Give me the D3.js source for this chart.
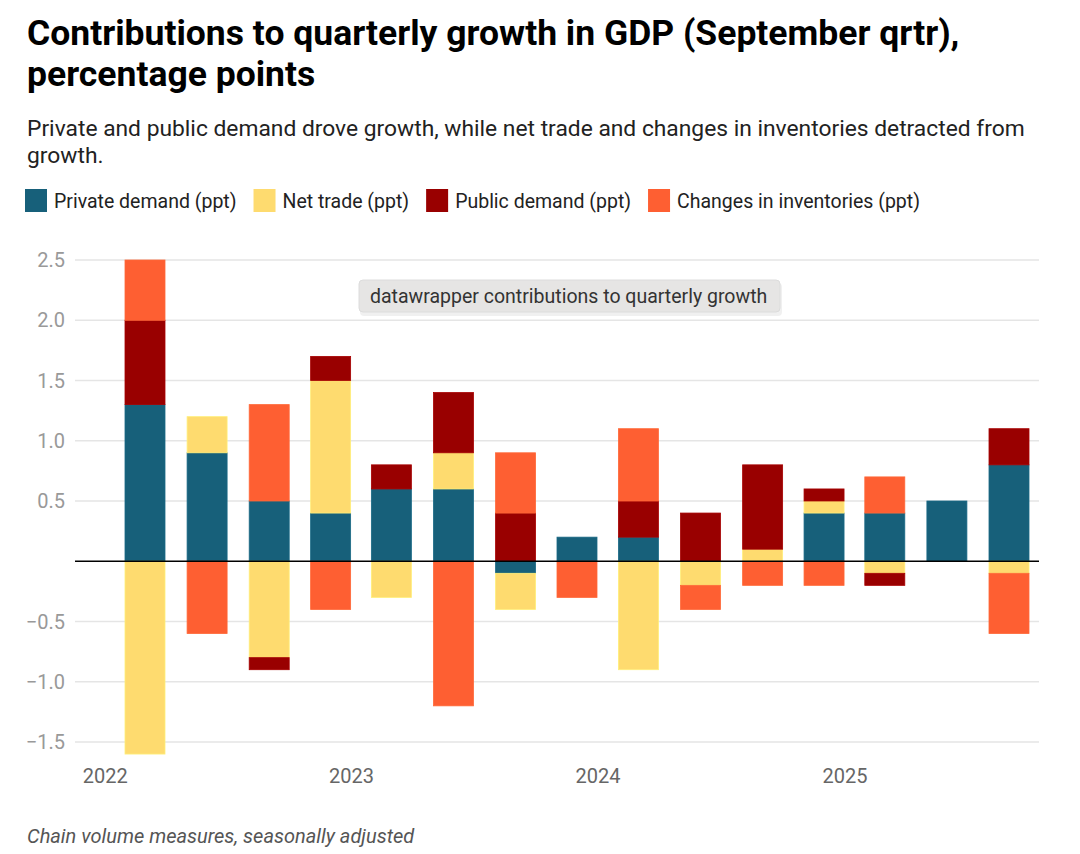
<!DOCTYPE html>
<html>
<head>
<meta charset="utf-8">
<script src="https://cdn.jsdelivr.net/npm/d3@7"></script>
<style>
  body { margin: 0; background: #fff; font-family: Roboto, sans-serif; }
  svg text { font-family: Roboto, sans-serif; }
</style>
</head>
<body>
<div id="chart"></div>
<script>
// 季度（季末月份）
const quarters = ["2022-03", "2022-06", "2022-09", "2022-12", "2023-03", "2023-06", "2023-09", "2023-12",
                  "2024-03", "2024-06", "2024-09", "2024-12", "2025-03", "2025-06", "2025-09"];
const privateDemand = [1.3, 0.9, 0.5, 0.4, 0.6, 0.6, -0.1, 0.2, 0.2, 0, 0, 0.4, 0.4, 0.5, 0.8];
const netTrade      = [-1.6, 0.3, -0.8, 1.1, -0.3, 0.3, -0.3, 0, -0.9, -0.2, 0.1, 0.1, -0.1, 0, -0.1];
const publicDemand  = [0.7, 0, -0.1, 0.2, 0.2, 0.5, 0.4, 0, 0.3, 0.4, 0.7, 0.1, -0.1, 0, 0.3];
const inventories   = [0.5, -0.6, 0.8, -0.4, 0, -1.2, 0.5, -0.3, 0.6, -0.2, -0.2, -0.2, 0.3, 0, -0.5];

const seriesNames = ["Private demand (ppt)", "Net trade (ppt)", "Public demand (ppt)", "Changes in inventories (ppt)"];
const seriesColors = ["#17607a", "#fedb6f", "#990000", "#fe5f32"];
const yTicks = [-1.5, -1.0, -0.5, 0.5, 1.0, 1.5, 2.0, 2.5];
const yearTicks = ["2022", "2023", "2024", "2025"];

const width = 1080, height = 854;
const svg = d3.select("#chart").append("svg")
    .attr("width", width)
    .attr("height", height);

// 标题
const title = svg.append("text")
    .attr("x", 27).attr("y", 45)
    .style("font-size", "35.5px")
    .style("font-weight", "700")
    .style("fill", "#000");
title.append("tspan").attr("x", 27).text("Contributions to quarterly growth in GDP (September qrtr),");
title.append("tspan").attr("x", 27).attr("dy", 41).text("percentage points");

const sub = svg.append("text")
    .attr("x", 27).attr("y", 136)
    .style("font-size", "22.8px")
    .style("fill", "#222");
sub.append("tspan").attr("x", 27).text("Private and public demand drove growth, while net trade and changes in inventories detracted from");
sub.append("tspan").attr("x", 27).attr("dy", 27).text("growth.");

// 图例
const legend = svg.append("g").attr("transform", "translate(25,189)");
let lx = 0;
seriesNames.forEach((name, i) => {
    const g = legend.append("g").attr("transform", `translate(${lx},0)`);
    g.append("rect").attr("width", 22).attr("height", 23).attr("fill", seriesColors[i]);
    const t = g.append("text")
        .attr("x", 29).attr("y", 19)
        .style("font-size", "19.5px")
        .style("fill", "#222")
        .text(name);
    lx += 29 + t.node().getComputedTextLength() + 17;
});

// 比例尺
const parseMonth = d3.timeParse("%Y-%m");
const dates = quarters.map(parseMonth);
const plotLeft = 75, plotRight = 1039;
const x = d3.scaleTime()
    .domain([dates[0], dates[dates.length - 1]])
    .range([145, 1009]);
const y = d3.scaleLinear()
    .domain([-1.5, 2.5])
    .range([742, 260]);
const barWidth = 40;

// 网格线
svg.append("g").selectAll("line")
    .data(yTicks)
    .join("line")
    .attr("x1", plotLeft).attr("x2", plotRight)
    .attr("y1", d => y(d)).attr("y2", d => y(d))
    .attr("stroke", "#e5e5e5")
    .attr("stroke-width", 1.5);

svg.append("g").selectAll("text")
    .data(yTicks)
    .join("text")
    .attr("x", 65)
    .attr("y", d => y(d))
    .attr("dy", "0.35em")
    .attr("text-anchor", "end")
    .style("font-size", "20px")
    .style("fill", "#999")
    .text(d => d3.format(".1f")(d).replace("-", "\u2212"));

// 堆叠数据
const rows = dates.map((d, i) => ({
    date: d,
    p: privateDemand[i], t: netTrade[i], g: publicDemand[i], inv: inventories[i]
}));
const keys = ["p", "t", "g", "inv"];
const stack = d3.stack().keys(keys).offset(d3.stackOffsetDiverging);
const layers = stack(rows);

svg.append("g").selectAll("g")
    .data(layers)
    .join("g")
    .attr("fill", (d, i) => seriesColors[i])
    .attr("stroke", (d, i) => d3.color(seriesColors[i]).brighter(0.25))
    .attr("stroke-width", 0.8)
    .selectAll("rect")
    .data(d => d.filter(s => s[1] !== s[0]))
    .join("rect")
    .attr("x", d => x(d.data.date) - barWidth / 2)
    .attr("width", barWidth)
    .attr("y", d => y(Math.max(d[0], d[1])))
    .attr("height", d => Math.abs(y(d[0]) - y(d[1])));

// 零线
svg.append("line")
    .attr("x1", plotLeft).attr("x2", plotRight)
    .attr("y1", y(0)).attr("y2", y(0))
    .attr("stroke", "#000")
    .attr("stroke-width", 1.3);

// 年份标签
svg.append("g").selectAll("text")
    .data(yearTicks)
    .join("text")
    .attr("x", d => x(new Date(+d, 0, 1)))
    .attr("y", 783)
    .attr("text-anchor", "middle")
    .style("font-size", "20px")
    .style("fill", "#666")
    .text(d => d);

// 提示框
const tip = svg.append("g").attr("transform", "translate(359,280)");
tip.append("rect")
    .attr("x", 1).attr("y", 3)
    .attr("width", 422).attr("height", 33)
    .attr("rx", 4)
    .attr("fill", "rgba(0,0,0,0.06)");
tip.append("rect")
    .attr("width", 421).attr("height", 32)
    .attr("rx", 4)
    .attr("fill", "#e6e5e4")
    .attr("stroke", "#dcdcdc");
tip.append("text")
    .attr("x", 11).attr("y", 23)
    .style("font-size", "19.5px")
    .style("fill", "#333")
    .text("datawrapper contributions to quarterly growth");

// 注释
svg.append("text")
    .attr("x", 27).attr("y", 843)
    .style("font-size", "20px")
    .style("font-style", "italic")
    .style("fill", "#555")
    .text("Chain volume measures, seasonally adjusted");
</script>
</body>
</html>
